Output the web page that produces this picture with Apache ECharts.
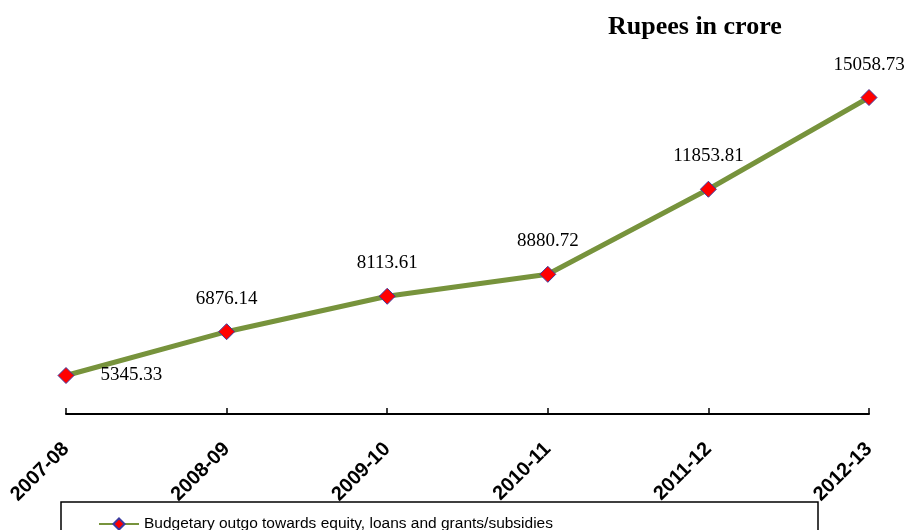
<!DOCTYPE html>
<html>
<head>
<meta charset="utf-8">
<script src="https://cdn.jsdelivr.net/npm/echarts@6/dist/echarts.min.js"></script>
<style>
  html, body { margin: 0; padding: 0; background: #fff; }
  #main { width: 904px; height: 530px; }
</style>
</head>
<body>
<div id="main"></div>
<script>
const years = ['2007-08', '2008-09', '2009-10', '2010-11', '2011-12', '2012-13']
const outgo = [5345.33, 6876.14, 8113.61, 8880.72, 11853.81, 15058.73]
const seriesName = 'Budgetary outgo towards equity, loans and grants/subsidies'

const chart = echarts.init(document.getElementById('main'))

const option = {
	animation: false,
	title: {
		text: 'Rupees in crore',
		left: 603,
		top: 9,
		textStyle: {
			fontFamily: 'Liberation Serif',
			fontWeight: 'bold',
			fontSize: 26,
			color: '#000'
		}
	},
	grid: {
		left: 66,
		right: 35,
		top: 70.6,
		bottom: 116
	},
	legend: {
		left: 93,
		top: 511,
		itemWidth: 40,
		itemHeight: 14,
		itemGap: 4,
		textStyle: {
			fontFamily: 'Liberation Sans',
			fontSize: 15.5,
			color: '#000'
		}
	},
	graphic: [ {
		type: 'rect',
		shape: { x: 61, y: 502, width: 757, height: 40 },
		style: { fill: 'none', stroke: '#000', lineWidth: 1.5 },
		z: 0
	} ],
	xAxis: {
		type: 'category',
		data: years,
		boundaryGap: false,
		axisLine: { lineStyle: { color: '#000', width: 2 } },
		axisTick: { inside: true, length: 6, lineStyle: { color: '#000', width: 1.5 } },
		axisLabel: {
			rotate: 45,
			margin: 32,
			fontFamily: 'Liberation Sans',
			fontWeight: 'bold',
			fontSize: 20,
			color: '#000'
		}
	},
	yAxis: {
		type: 'value',
		min: 4000,
		max: 16000,
		show: false
	},
	series: [ {
		name: seriesName,
		type: 'line',
		symbol: 'diamond',
		symbolSize: 16,
		lineStyle: { color: '#77933C', width: 5 },
		itemStyle: { color: '#FF0000', borderColor: '#3B3BA0', borderWidth: 1 },
		label: {
			show: true,
			position: 'top',
			distance: 15,
			fontFamily: 'Liberation Serif',
			fontSize: 19,
			color: '#000',
			formatter: (p) => p.value.toFixed(2)
		},
		labelLayout: { hideOverlap: false },
		data: outgo.map((v, i) => i === 0
			? { value: v, label: { position: 'right', distance: 26, offset: [0, 7] } }
			: v)
	} ]
}

chart.setOption(option)
</script>
</body>
</html>
